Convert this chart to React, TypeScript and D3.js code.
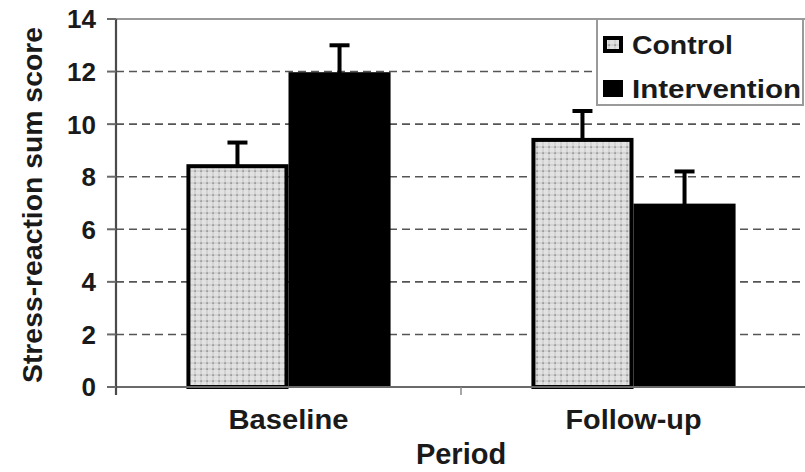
import React from "react";
import * as d3 from "d3";

const width = 805;
const height = 472;
const margin = { top: 19, right: -1, bottom: 85, left: 116 };

// data
const periods = ["Baseline", "Follow-up"];
const groups = ["Control", "Intervention"];
const controlMeans = [8.4, 9.4];
const controlErr = [0.9, 1.1];
const interventionMeans = [11.9, 6.9];
const interventionErr = [1.1, 1.3];
const yTicks = [0, 2, 4, 6, 8, 10, 12, 14];

const font = "'Liberation Sans', Arial, sans-serif";

const x0 = d3
  .scaleBand()
  .domain(periods)
  .range([margin.left, width - margin.right])
  .paddingInner(0)
  .paddingOuter(0);

const x1 = d3
  .scaleBand()
  .domain(groups)
  .range([0, x0.bandwidth()])
  .paddingInner(0)
  .paddingOuter(0.69);

const y = d3
  .scaleLinear()
  .domain([0, 14])
  .range([height - margin.bottom, margin.top]);

const bars = periods.flatMap((p, i) => [
  { period: p, group: "Control", value: controlMeans[i], err: controlErr[i] },
  { period: p, group: "Intervention", value: interventionMeans[i], err: interventionErr[i] }
]);

export default function App() {
  const x0Left = margin.left;
  const x0Right = width - margin.right;
  const yBottom = y(0);
  const yTop = y(14);

  return (
    <svg
      width={width}
      height={height}
      style={{ position: "absolute", left: 0, top: 0, background: "#fff" }}
      fontFamily={font}
    >
      <defs>
        <pattern id="dots" width="6" height="6" patternUnits="userSpaceOnUse">
          <rect width="6" height="6" fill="#e2e2e2" />
          <rect x="0" y="2.5" width="6" height="1" fill="#c4c4c4" />
          <rect x="2.5" y="0" width="1" height="6" fill="#c4c4c4" />
          <rect x="2.5" y="2.5" width="1.2" height="1.2" fill="#6a6a6a" />
        </pattern>
      </defs>

      {/* plot frame top */}
      <line x1={x0Left} x2={x0Right + 2} y1={yTop} y2={yTop} stroke="#9a9a9a" strokeWidth={2} />

      {/* gridlines */}
      {yTicks.filter((t) => t > 0 && t < 14).map((t) => (
        <line
          key={t}
          x1={x0Left}
          x2={x0Right}
          y1={y(t)}
          y2={y(t)}
          stroke="#555"
          strokeWidth={1.6}
          strokeDasharray="8 5"
        />
      ))}

      {/* bars */}
      {bars.map((d, i) => {
        const bx = (x0(d.period) || 0) + (x1(d.group) || 0);
        const bw = x1.bandwidth();
        const isControl = d.group === "Control";
        const cx = bx + bw / 2;
        return (
          <g key={i}>
            <line x1={cx} x2={cx} y1={y(d.value)} y2={y(d.value + d.err)} stroke="#000" strokeWidth={4} />
            <line x1={cx - 10} x2={cx + 10} y1={y(d.value + d.err)} y2={y(d.value + d.err)} stroke="#000" strokeWidth={4} />
            {isControl ? (
              <rect
                x={bx + 2}
                y={y(d.value)}
                width={bw - 4}
                height={yBottom - y(d.value)}
                fill="url(#dots)"
                stroke="#000"
                strokeWidth={4}
              />
            ) : (
              <rect x={bx} y={y(d.value) - 2} width={bw} height={yBottom - y(d.value) + 2} fill="#000" />
            )}
          </g>
        );
      })}

      {/* axes */}
      <line x1={x0Left} x2={x0Right + 2} y1={yBottom} y2={yBottom} stroke="#6a6a6a" strokeWidth={2.2} />
      <line x1={x0Left} x2={x0Left} y1={yTop} y2={yBottom + 8} stroke="#4a4a4a" strokeWidth={2.2} />
      {yTicks.map((t) => (
        <g key={t}>
          <line x1={x0Left - 9} x2={x0Left} y1={y(t)} y2={y(t)} stroke="#6a6a6a" strokeWidth={2} />
          <text
            x={96}
            y={y(t)}
            dy="0.36em"
            textAnchor="end"
            fontSize={26}
            fontWeight="bold"
            fill="#1a1a1a"
          >
            {t}
          </text>
        </g>
      ))}
      {periods.map((p, i) => (
        <g key={p}>
          <line
            x1={x0(p)! + x0.bandwidth()}
            x2={x0(p)! + x0.bandwidth()}
            y1={yBottom}
            y2={yBottom + 8}
            stroke="#8a8a8a"
            strokeWidth={1.5}
          />
          <text
            x={x0(p)! + x0.bandwidth() / 2}
            y={429}
            textAnchor="middle"
            fontSize={27}
            fontWeight="bold"
            fill="#1a1a1a"
            textLength={i === 0 ? 120 : 136}
            lengthAdjust="spacingAndGlyphs"
          >
            {p}
          </text>
        </g>
      ))}

      <text
        x={(x0Left + 806) / 2}
        y={464}
        textAnchor="middle"
        fontSize={29}
        fontWeight="bold"
        fill="#1a1a1a"
      >
        Period
      </text>

      <text
        transform={`translate(42, ${(27 + 383) / 2}) rotate(-90)`}
        textAnchor="middle"
        fontSize={27}
        fontWeight="bold"
        fill="#1a1a1a"
        textLength={356}
        lengthAdjust="spacingAndGlyphs"
      >
        Stress-reaction sum score
      </text>

      {/* legend */}
      <g>
        <rect x={597} y={19} width={206} height={86} fill="#fff" stroke="#9a9a9a" strokeWidth={2} />
        {groups.map((g, i) => {
          const ly = i === 0 ? 44.5 : 88.5;
          return (
            <g key={g}>
              {g === "Control" ? (
                <rect x={605} y={ly - 6.5} width={16} height={13} fill="url(#dots)" stroke="#000" strokeWidth={4} />
              ) : (
                <rect x={603} y={ly - 8.5} width={20} height={17} fill="#000" />
              )}
              <text
                x={632}
                y={ly}
                dy="0.36em"
                fontSize={25}
                fontWeight="bold"
                fill="#1a1a1a"
                textLength={i === 0 ? 101 : 169}
                lengthAdjust="spacingAndGlyphs"
              >
                {g}
              </text>
            </g>
          );
        })}
      </g>
    </svg>
  );
}
